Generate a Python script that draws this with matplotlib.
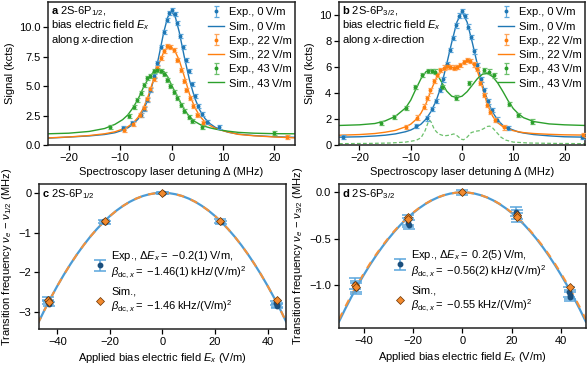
import matplotlib
matplotlib.use("Agg")
import matplotlib.pyplot as plt
import numpy as np

plt.rcParams['font.family'] = ['Liberation Sans', 'DejaVu Sans']
plt.rcParams['mathtext.fontset'] = 'custom'
plt.rcParams['mathtext.rm'] = 'Liberation Sans'
plt.rcParams['mathtext.it'] = 'Liberation Sans:italic'
plt.rcParams['mathtext.bf'] = 'Liberation Sans:bold'
plt.rcParams['font.size'] = 8

# ---------------- Panel a: 2S-6P1/2 ----------------
a_blue_x = [-9.5, -7.7, -6.0, -5.4, -4.7, -4.1, -3.4, -2.8, -2.1, -1.5, -0.9, -0.4, 0.1,
            0.6, 1.1, 1.7, 2.2, 2.8, 3.3, 3.9, 4.5, 5.2, 5.9, 6.9, 9.2]
a_blue_y = [1.4, 1.9, 2.55, 3.05, 3.8, 4.7, 5.85, 6.95, 8.35, 9.6, 10.65, 11.25, 11.45,
            11.1, 10.4, 9.3, 8.35, 7.2, 6.3, 5.2, 4.2, 3.3, 2.65, 1.95, 1.5]
a_orange_x = [-9.3, -7.5, -6.1, -5.4, -4.7, -4.1, -3.4, -2.8, -2.1, -1.5, -0.8, -0.2, 0.45,
              1.1, 1.75, 2.4, 2.9, 3.5, 4.1, 5.0, 6.1, 22.4]
a_orange_y = [1.3, 1.8, 2.55, 3.15, 3.9, 4.75, 5.6, 6.5, 7.35, 8.0, 8.38, 8.33, 8.05,
              7.2, 6.35, 5.4, 4.65, 3.95, 3.3, 2.55, 1.85, 0.68]
a_green_x = [-11.9, -8.3, -7.3, -6.7, -6.0, -5.4, -4.7, -4.1, -3.4, -2.8, -2.1, -1.5, -0.8,
             -0.2, 0.45, 1.1, 1.75, 2.4, 3.4, 4.0, 6.0, 20.0]
a_green_y = [1.56, 2.45, 3.2, 3.8, 4.4, 5.1, 5.65, 5.85, 6.25, 6.35, 6.3, 6.05, 5.55,
             5.0, 4.5, 3.95, 3.4, 2.85, 2.4, 2.0, 1.55, 1.0]

a_sim_x = [-24, -20, -16, -13, -11, -9.5, -8.5, -7.5, -6.5, -5.5, -4.5, -3.5, -2.5, -1.5,
           -0.75, 0, 0.75, 1.5, 2.5, 3.5, 4.5, 5.5, 6.5, 7.5, 8.5, 9.5, 11, 13, 16, 20, 24]
a_sim_blue = [0.58, 0.67, 0.77, 0.89, 1.04, 1.25, 1.45, 1.75, 2.2, 2.9, 3.95, 5.5, 7.45, 9.6,
              10.85, 11.35, 10.85, 9.6, 7.45, 5.5, 4.0, 2.95, 2.25, 1.8, 1.5, 1.3, 1.08, 0.92, 0.8, 0.7, 0.65]
a_sim_orange = [0.6, 0.68, 0.8, 0.95, 1.12, 1.35, 1.55, 1.85, 2.35, 3.1, 4.2, 5.55, 6.85, 7.9,
                8.3, 8.3, 7.9, 7.2, 5.8, 4.3, 3.2, 2.45, 1.95, 1.65, 1.42, 1.27, 1.1, 0.9, 0.78, 0.68, 0.6]
a_sim_green = [0.95, 1.0, 1.15, 1.4, 1.75, 2.15, 2.55, 3.15, 3.9, 4.85, 5.65, 6.2, 6.4, 6.25,
               5.8, 5.1, 4.45, 3.8, 3.0, 2.4, 2.0, 1.75, 1.58, 1.45, 1.35, 1.27, 1.17, 1.07, 1.0, 0.96, 0.95]

# ---------------- Panel b: 2S-6P3/2 ----------------
b_blue_x = [-23.2, -8.9, -6.9, -5.8, -5.0, -4.3, -3.7, -3.0, -2.4, -1.8, -1.2, -0.6, 0.0,
            0.6, 1.2, 1.8, 2.4, 3.0, 3.7, 4.3, 5.0, 5.8, 6.9, 8.9, 23.5]
b_blue_y = [0.62, 1.45, 2.05, 2.75, 3.4, 4.25, 5.05, 6.25, 7.3, 8.25, 9.2, 9.95, 10.3,
            9.9, 9.1, 8.3, 7.2, 6.15, 5.05, 4.2, 3.35, 2.7, 1.95, 1.3, 0.62]
b_orange_x = [-11.0, -8.8, -7.5, -6.8, -6.2, -5.5, -4.9, -4.2, -3.6, -2.9, -2.3, -1.6, -1.0,
              -0.3, 0.3, 1.0, 1.6, 2.3, 2.9, 3.6, 4.2, 4.9, 5.5, 6.5, 8.1, 23.7]
b_orange_y = [1.4, 2.1, 2.95, 3.6, 4.2, 4.9, 5.4, 5.75, 5.95, 6.05, 6.0, 5.95, 6.0,
              6.15, 6.4, 6.55, 6.45, 6.2, 5.85, 4.75, 3.85, 3.1, 2.55, 1.9, 1.35, 0.77]
b_green_x = [-15.9, -13.3, -11.0, -9.2, -7.8, -6.6, -5.9, -5.2, -3.9, -1.2, 1.4, 4.2, 5.2,
             6.3, 9.1, 10.9, 13.6]
b_green_y = [1.7, 2.15, 2.85, 4.45, 5.4, 5.7, 5.7, 5.65, 4.45, 3.65, 4.75, 5.75, 5.65,
             5.35, 3.15, 2.3, 1.8]

b_sim_x = [-24, -20, -17, -15, -13, -11, -10, -9, -8, -7, -6, -5, -4, -3, -2, -1, 0,
           1, 2, 3, 4, 5, 6, 7, 8, 9, 10, 11, 12, 14, 17, 20, 24]
b_sim_blue = [0.6, 0.63, 0.69, 0.75, 0.85, 1.02, 1.15, 1.35, 1.6, 2.0, 2.6, 3.45, 4.6, 6.2, 7.9, 9.45, 10.25,
              9.45, 7.9, 6.2, 4.6, 3.4, 2.5, 1.9, 1.5, 1.3, 1.15, 1.0, 0.92, 0.8, 0.7, 0.63, 0.6]
b_sim_orange = [0.75, 0.8, 0.88, 0.98, 1.12, 1.4, 1.6, 1.95, 2.45, 3.2, 4.25, 5.15, 5.7, 5.95, 5.95, 6.0, 6.25,
                6.45, 6.3, 5.7, 4.4, 3.05, 2.2, 1.7, 1.4, 1.22, 1.1, 1.02, 0.95, 0.88, 0.82, 0.78, 0.76]
b_sim_green = [1.5, 1.55, 1.65, 1.85, 2.2, 2.85, 3.45, 4.3, 5.1, 5.65, 5.8, 5.55, 4.85, 4.15, 3.75, 3.65, 3.75,
               4.1, 4.6, 5.1, 5.45, 5.5, 5.25, 4.75, 4.1, 3.4, 2.8, 2.4, 2.1, 1.8, 1.62, 1.55, 1.5]
b_dash_x = [-24, -18, -14, -11, -9, -8, -7.2, -6.6, -6.3, -6.0, -5.4, -4.6, -3.5, -2.5, -1.6, -0.9,
            -0.2, 0.3, 1.0, 1.8, 2.6, 3.4, 4.2, 4.9, 5.4, 6.0, 6.8, 7.6, 8.5, 10, 13, 18, 24]
b_dash_y = [0.1, 0.12, 0.15, 0.22, 0.35, 0.55, 1.1, 1.75, 1.9, 1.75, 1.2, 0.85, 0.7, 0.75, 0.85, 0.7,
            0.45, 0.4, 0.6, 0.95, 1.05, 1.1, 1.25, 1.42, 1.45, 1.3, 0.95, 0.6, 0.38, 0.22, 0.15, 0.12, 0.1]

sig_err = 0.17

# ---------------- Panel c: 2S-6P1/2 frequency shifts ----------------
c_exp_E = [-43.6, -43.4, -43.2, -22.2, -22.0, 0.0, 0.1, 21.9, 22.1, 43.2, 43.4, 43.6]
c_exp_v = [-2.67, -2.74, -2.78, -0.72, -0.74, 0.0, -0.01, -0.71, -0.74, -2.77, -2.81, -2.84]
c_exp_err = [0.05, 0.05, 0.05, 0.04, 0.04, 0.03, 0.03, 0.04, 0.04, 0.05, 0.05, 0.05]
c_sim_E = [-43.4, -43.2, -22.0, 0.0, 22.0, 43.4]
c_sim_v = [-2.68, -2.73, -0.72, 0.0, -0.72, -2.70]
c_fit_E_half = [0, 2.5, 5, 7.5, 10, 12.5, 15, 17.5, 20, 22.5, 25, 27.5, 30, 32.5, 35, 37.5, 40, 42.5, 45, 47.5]
c_fit_v_half = [0, -0.009, -0.037, -0.082, -0.146, -0.228, -0.329, -0.447, -0.584, -0.739, -0.913,
                -1.104, -1.314, -1.542, -1.789, -2.053, -2.336, -2.637, -2.957, -3.294]

# ---------------- Panel d: 2S-6P3/2 frequency shifts ----------------
d_exp_E = [-43.6, -43.3, -43.0, -22.2, -22.0, -21.8, 0.0, 21.8, 22.0, 22.2, 43.1, 43.4, 43.7]
d_exp_v = [-0.99, -1.04, -1.02, -0.30, -0.33, -0.35, 0.0, -0.21, -0.24, -0.27, -1.08, -1.11, -1.13]
d_exp_err = [0.06, 0.06, 0.06, 0.05, 0.05, 0.05, 0.03, 0.05, 0.05, 0.05, 0.05, 0.05, 0.05]
d_sim_E = [-43.4, -43.2, -22.1, -21.9, 0.0, 22.0, 22.2, 43.4]
d_sim_v = [-1.0, -1.03, -0.27, -0.29, 0.0, -0.25, -0.27, -1.02]
d_fit_E_half = [0, 2.5, 5, 7.5, 10, 12.5, 15, 17.5, 20, 22.5, 25, 27.5, 30, 32.5, 35, 37.5, 40, 42.5, 45, 47.5, 50]
d_fit_v_half = [0, -0.0035, -0.014, -0.0315, -0.056, -0.0875, -0.126, -0.1715, -0.224, -0.2835, -0.35,
                -0.4235, -0.504, -0.5915, -0.686, -0.7875, -0.896, -1.0115, -1.134, -1.2635, -1.40]
d_sim_v_half = [0, -0.0034, -0.0138, -0.0309, -0.055, -0.0859, -0.1238, -0.1684, -0.22, -0.2784, -0.3438,
                -0.4159, -0.495, -0.5809, -0.6738, -0.7734, -0.88, -0.9934, -1.1138, -1.2409, -1.375]

fields = ['0', '22', '43']
BLUE = '#1f77b4'
ORANGE = '#ff7f0e'
GREEN = '#2ca02c'
LBLUE = '#5fa8dc'
LORANGE = '#ffa559'
LGREEN = '#6cc06c'

fig = plt.figure(figsize=(5.87, 3.67), dpi=100)
axa = fig.add_axes([0.0818, 0.605, 0.4208, 0.3896])
axb = fig.add_axes([0.5775, 0.605, 0.4191, 0.3896])
axc = fig.add_axes([0.0664, 0.1035, 0.4208, 0.3951])
axd = fig.add_axes([0.5775, 0.1060, 0.4205, 0.3926])

def style(ax):
    for s in ax.spines.values():
        s.set_linewidth(1.1)
        s.set_color('#222222')
    ax.tick_params(direction='out', length=3.5, width=0.9, labelsize=8, pad=2)

def spectrum(ax, exps, sims, sim_x, label):
    cols = [BLUE, ORANGE, GREEN]
    lcols = [LBLUE, LORANGE, LGREEN]
    handles = []
    for (ex, ey), sy, c, lc, f in zip(exps, sims, cols, lcols, fields):
        h1 = ax.errorbar(ex, ey, yerr=sig_err, fmt='o', ms=1.8, color=c, ecolor=lc,
                         elinewidth=0.9, capsize=1.8, capthick=0.9,
                         label='Exp., ' + f + '\u2009V/m', zorder=3)
        h2, = ax.plot(sim_x, sy, '-', color=c, lw=1.0, label='Sim., ' + f + '\u2009V/m', zorder=2)
        handles += [h1, h2]
    ax.set_xlim(-24, 24)
    ax.set_xticks([-20, -10, 0, 10, 20])
    ax.set_xticklabels(['\u221220', '\u221210', '0', '10', '20'])
    ax.set_xlabel('Spectroscopy laser detuning \u0394 (MHz)', fontsize=8, labelpad=3)
    ax.set_ylabel('Signal (kcts)', fontsize=8, labelpad=3)
    ax.legend(handles=handles, loc='upper right', bbox_to_anchor=(1.015, 1.01), frameon=False,
              fontsize=8, handlelength=1.4, handletextpad=0.5, labelspacing=0.38, borderaxespad=0.2)
    ax.text(0.013, 0.985, label, transform=ax.transAxes, ha='left', va='top', fontsize=8,
            linespacing=1.05)
    style(ax)

spectrum(axa, [(a_blue_x, a_blue_y), (a_orange_x, a_orange_y), (a_green_x, a_green_y)],
         [a_sim_blue, a_sim_orange, a_sim_green], a_sim_x,
         '$\\mathbf{a}$ 2S-6P$_{1/2}$,\nbias electric field $E_x$\nalong $x$-direction')
axa.set_ylim(0, 12.15)
axa.set_yticks([0, 2.5, 5, 7.5, 10])
axa.set_yticklabels(['0.0', '2.5', '5.0', '7.5', '10.0'])

axb.plot(b_dash_x, b_dash_y, '--', color=LGREEN, lw=0.9, dashes=(3, 1.8), zorder=1)
spectrum(axb, [(b_blue_x, b_blue_y), (b_orange_x, b_orange_y), (b_green_x, b_green_y)],
         [b_sim_blue, b_sim_orange, b_sim_green], b_sim_x,
         '$\\mathbf{b}$ 2S-6P$_{3/2}$,\nbias electric field $E_x$\nalong $x$-direction')
axb.set_ylim(0, 11.0)
axb.set_yticks([0, 2, 4, 6, 8, 10])

def shifts(ax, eE, ev, eerr, sE, sv, fitE_half, fitv_half, simv_half, exp_label, sim_label, label, xl):
    fitE = [-e for e in fitE_half[::-1]] + fitE_half[1:]
    fitv = fitv_half[::-1] + fitv_half[1:]
    simv = simv_half[::-1] + simv_half[1:]
    ax.plot(fitE, fitv, '-', color='#4b9bd5', lw=1.6, zorder=1)
    ax.plot(fitE, simv, '--', color='#f5923a', lw=1.5, dashes=(3.5, 3.5), zorder=2)
    h1 = ax.errorbar(eE, ev, yerr=eerr, fmt='o', ms=3.2, color='#1b4f7d', ecolor='#5aa6dd',
                     elinewidth=1.1, capsize=4, capthick=1.1, label=exp_label, zorder=3)
    h2, = ax.plot(sE, sv, 'D', ms=3.6, color='#f28a2e', mec='#6b3200', mew=0.5,
                  ls='none', label=sim_label, zorder=4)
    ax.set_xlim(-xl, xl)
    ax.set_xticks([-40, -20, 0, 20, 40])
    ax.set_xticklabels(['\u221240', '\u221220', '0', '20', '40'])
    ax.set_xlabel('Applied bias electric field $E_x$ (V/m)', fontsize=8, labelpad=3)
    ax.legend(handles=[h1, h2], loc='lower left', bbox_to_anchor=(0.18, 0.03), frameon=False,
              fontsize=8, handlelength=1.2, handletextpad=0.4, labelspacing=0.45)
    ax.text(0.013, 0.975, label, transform=ax.transAxes, ha='left', va='top', fontsize=8)
    style(ax)

shifts(axc, c_exp_E, c_exp_v, c_exp_err, c_sim_E, c_sim_v, c_fit_E_half, c_fit_v_half, c_fit_v_half,
       'Exp., $\\Delta E_x =$ \u22120.2(1)\u2009V/m,\n$\\beta_{\\mathrm{dc},x} =$ \u22121.46(1)\u2009kHz/(V/m)$^2$',
       'Sim.,\n$\\beta_{\\mathrm{dc},x} =$ \u22121.46\u2009kHz/(V/m)$^2$',
       '$\\mathbf{c}$ 2S-6P$_{1/2}$', 47)
axc.set_ylim(-3.42, 0.22)
axc.set_yticks([0, -1, -2, -3])
axc.set_yticklabels(['0', '\u22121', '\u22122', '\u22123'])
axc.set_ylabel('Transition frequency $\\nu_e$ \u2212 $\\nu_{1/2}$ (MHz)', fontsize=8, labelpad=3)

shifts(axd, d_exp_E, d_exp_v, d_exp_err, d_sim_E, d_sim_v, d_fit_E_half, d_fit_v_half, d_sim_v_half,
       'Exp., $\\Delta E_x =$ 0.2(5)\u2009V/m,\n$\\beta_{\\mathrm{dc},x} =$ \u22120.56(2)\u2009kHz/(V/m)$^2$',
       'Sim.,\n$\\beta_{\\mathrm{dc},x} =$ \u22120.55\u2009kHz/(V/m)$^2$',
       '$\\mathbf{d}$ 2S-6P$_{3/2}$', 50)
axd.set_ylim(-1.47, 0.09)
axd.set_yticks([0, -0.5, -1.0])
axd.set_yticklabels(['0.0', '\u22120.5', '\u22121.0'])
axd.set_ylabel('Transition frequency $\\nu_e$ \u2212 $\\nu_{3/2}$ (MHz)', fontsize=8, labelpad=3)

fig.savefig('out.png', dpi=100)
